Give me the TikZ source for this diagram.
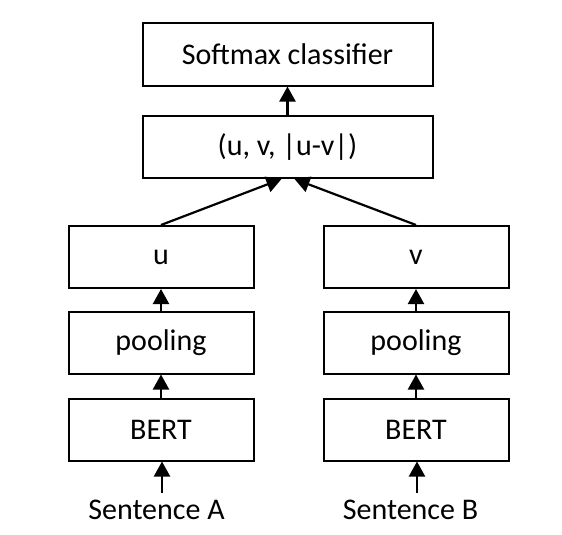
\documentclass[tikz,border=0pt]{standalone}
\usepackage{fontspec}
\setmainfont{Carlito}
\usetikzlibrary{arrows.meta}
\begin{document}
\begin{tikzpicture}[x=1pt,y=-1pt,
  box/.style={draw, line width=2pt, inner sep=0pt, minimum height=62pt,
              font=\fontsize{30}{36}\selectfont},
  wide/.style={box, minimum width=290pt},
  narrow/.style={box, minimum width=185pt},
  label/.style={inner sep=0pt, font=\fontsize{30}{36}\selectfont},
  arr/.style={line width=2.2pt, -{Triangle[length=15pt,width=16pt]}}]
  \useasboundingbox (0,0) rectangle (562,535);

  % shared head
  \node[wide] (cls) at (287.5,54.5) {Softmax classifier};
  \node[wide] (cat) at (287.5,147) {(u, v, |u-v|)};

  % sentence A branch
  \node[narrow] (u)     at (161,257)   {u};
  \node[narrow] (poolA) at (161,342.5) {pooling};
  \node[narrow] (bertA) at (161,429.5) {BERT};
  \node[label]  (sentA) at (156.5,510) {Sentence A};
  \coordinate (inA) at (162,493);

  % sentence B branch
  \node[narrow] (v)     at (416,257)   {v};
  \node[narrow] (poolB) at (416,342.5) {pooling};
  \node[narrow] (bertB) at (416,429.5) {BERT};
  \node[label]  (sentB) at (410.5,510) {Sentence B};
  \coordinate (inB) at (417,493);

  % connectors
  \draw[arr] (cat.north) -- (cls.south);
  \draw[arr] (u.north) -- ([xshift=-6pt]cat.south);
  \draw[arr] (v.north) -- ([xshift=7pt]cat.south);
  \draw[arr] (poolA.north) -- (u.south);
  \draw[arr] (bertA.north) -- (poolA.south);
  \draw[arr] (inA) -- (inA |- bertA.south);
  \draw[arr] (poolB.north) -- (v.south);
  \draw[arr] (bertB.north) -- (poolB.south);
  \draw[arr] (inB) -- (inB |- bertB.south);
\end{tikzpicture}
\end{document}
